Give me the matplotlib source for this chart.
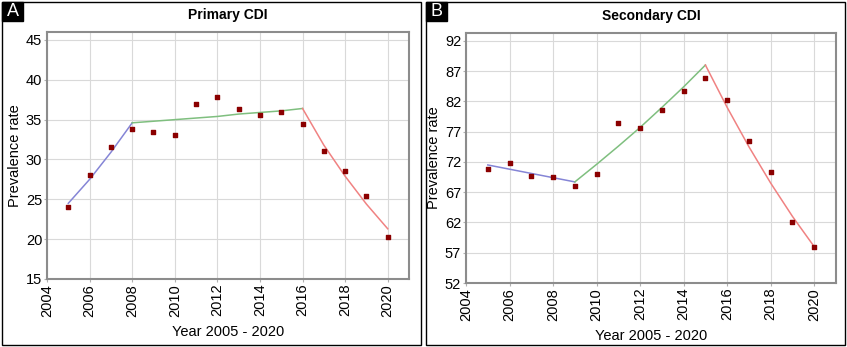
import matplotlib.pyplot as plt
from matplotlib.patches import Rectangle

plt.rcParams['font.family'] = ['Liberation Sans', 'DejaVu Sans']

years = list(range(2005, 2021))

# Primary CDI: observed prevalence and joinpoint model
prim_obs = [24.0, 28.0, 31.6, 33.8, 33.4, 33.1, 37.0, 37.9,
            36.3, 35.6, 35.9, 34.5, 31.1, 28.6, 25.4, 20.3]
prim_seg1_x = [2005, 2006, 2007, 2008]
prim_seg1_y = [24.5, 27.5, 30.9, 34.6]
prim_seg2_x = [2008, 2009, 2010, 2011, 2012, 2013, 2014, 2015, 2016]
prim_seg2_y = [34.6, 34.8, 35.0, 35.2, 35.4, 35.7, 35.9, 36.1, 36.4]
prim_seg3_x = [2016, 2017, 2018, 2019, 2020]
prim_seg3_y = [36.4, 31.8, 27.9, 24.4, 21.3]

# Secondary CDI
sec_obs = [70.8, 71.8, 69.7, 69.5, 68.0, 70.0, 78.4, 77.6,
           80.5, 83.7, 85.9, 82.2, 75.4, 70.3, 62.0, 57.9]
sec_seg1_x = [2005, 2006, 2007, 2008, 2009]
sec_seg1_y = [71.5, 70.8, 70.1, 69.4, 68.7]
sec_seg2_x = [2009, 2010, 2011, 2012, 2013, 2014, 2015]
sec_seg2_y = [68.7, 71.6, 74.6, 77.7, 81.0, 84.4, 88.0]
sec_seg3_x = [2015, 2016, 2017, 2018, 2019, 2020]
sec_seg3_y = [88.0, 81.0, 74.5, 68.5, 63.0, 58.0]

prim_yticks = [15, 20, 25, 30, 35, 40, 45]
sec_yticks = [52, 57, 62, 67, 72, 77, 82, 87, 92]
xticks = [2004, 2006, 2008, 2010, 2012, 2014, 2016, 2018, 2020]

fig = plt.figure(figsize=(8.47, 3.47), dpi=100)

# panel frames and letter boxes
for x0, letter in [(2 / 847, 'A'), (426 / 847, 'B')]:
    fig.patches.append(Rectangle((x0, 2 / 347), 419 / 847, 343 / 347,
                                 transform=fig.transFigure, fill=False,
                                 edgecolor='black', linewidth=1.0))
    fig.patches.append(Rectangle((x0, 1 - 21 / 347), 21 / 847, 19 / 347,
                                 transform=fig.transFigure,
                                 facecolor='black', edgecolor='black'))
    fig.text(x0 + 10.5 / 847, 1 - 11.5 / 347, letter, color='white',
             fontsize=13, ha='center', va='center')

def draw(ax, obs, segs, yticks, ylim, title):
    ax.plot(segs[0][0], segs[0][1], color='#8585d6', lw=1.1)
    ax.plot(segs[1][0], segs[1][1], color='#7fbf7f', lw=1.1)
    ax.plot(segs[2][0], segs[2][1], color='#f08282', lw=1.1)
    ax.scatter(years, obs, marker='s', s=9, color='#8b0000', zorder=3)
    ax.set_xlim(2004, 2021)
    ax.set_ylim(*ylim)
    ax.set_xticks(xticks)
    ax.set_yticks(yticks)
    ax.tick_params(axis='x', labelrotation=90)
    ax.tick_params(labelsize=10.5, length=2, color='#b0b0b0', pad=1.5)
    ax.grid(color='#d9d9d9', linewidth=0.8)
    ax.set_axisbelow(True)
    for sp in ax.spines.values():
        sp.set_color('#8c8c8c')
        sp.set_linewidth(1.5)
    ax.set_title(title, fontsize=10, fontweight='bold', pad=9)
    ax.set_xlabel('Year 2005 - 2020', fontsize=10.5, labelpad=6)
    ax.set_ylabel('Prevalence rate', fontsize=10.5, labelpad=3)

ax1 = fig.add_axes([0.0555, 0.196, 0.4274, 0.7118])
draw(ax1, prim_obs, [(prim_seg1_x, prim_seg1_y), (prim_seg2_x, prim_seg2_y),
                     (prim_seg3_x, prim_seg3_y)],
     prim_yticks, (15, 46), 'Primary CDI')

ax2 = fig.add_axes([0.5502, 0.1844, 0.4368, 0.7206])
draw(ax2, sec_obs, [(sec_seg1_x, sec_seg1_y), (sec_seg2_x, sec_seg2_y),
                    (sec_seg3_x, sec_seg3_y)],
     sec_yticks, (52, 93.3), 'Secondary CDI')

fig.savefig('out.png', dpi=100)
